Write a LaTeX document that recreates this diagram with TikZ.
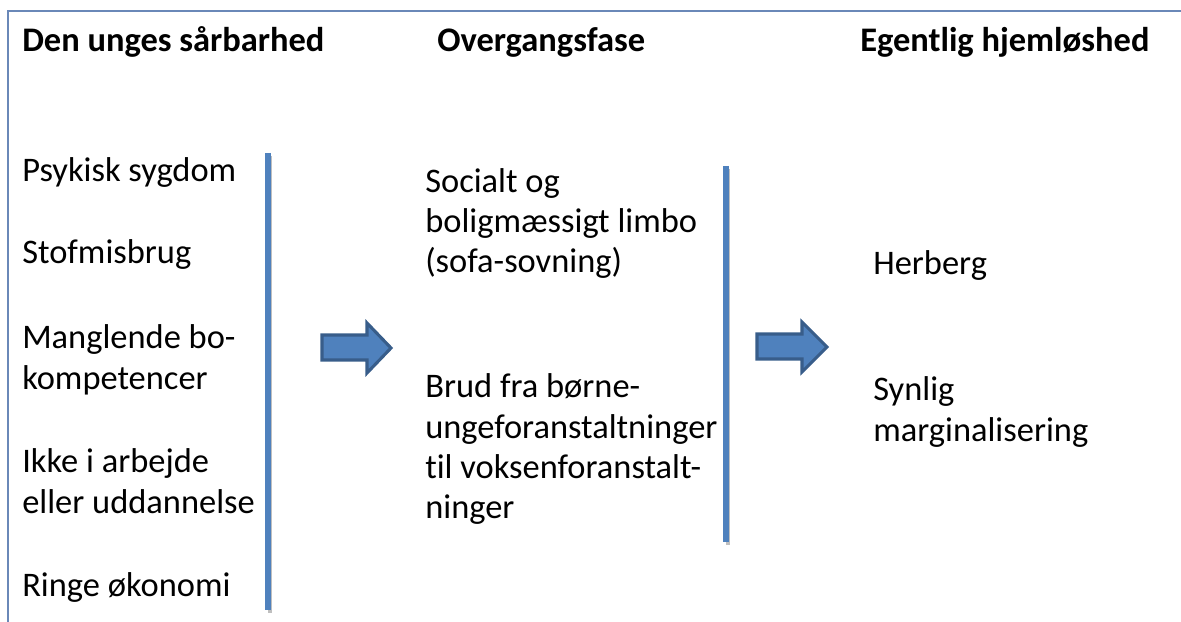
\documentclass[tikz,border=0pt]{standalone}
\usepackage{fontspec}
\setmainfont[Ligatures=NoCommon]{Carlito}
\usepackage{tikz}
\usetikzlibrary{positioning}
\definecolor{barblue}{HTML}{4F81BD}
\definecolor{edgeblue}{HTML}{385D8A}
\definecolor{frameblue}{HTML}{6A88B8}
\tikzset{
  head/.style={ anchor=base west, inner sep=0pt, font=\fontsize{24.5}{29.5}\selectfont\bfseries }
}
\tikzset{
  txt/.style={ anchor=base west, inner sep=0pt, font=\fontsize{24.5}{29.5}\selectfont }
}
\tikzset{
  bar/.style={ draw=barblue, line width=6*0.7113pt }
}
\tikzset{
  blockarr/.style={ draw=edgeblue, fill=barblue, line width=2.2pt, line join=miter }
}

\begin{document}
\begin{tikzpicture}[x=0.025cm, y=-0.025cm]
        \useasboundingbox (0, 0) rectangle (1181, 622);
        % frame
        \draw[frameblue, line width=1.2pt] (8, 622) -- (8, 11) -- (1181, 11);
        % headings
        \node[head] (h1) at (22, 52) {Den unges sårbarhed};
        \node[head] (h2) at (437, 52) {Overgangsfase};
        \node[head] (h3) at (860, 52) {Egentlig hjemløshed};
        % first column
        \node[txt] (psyk) at (22, 182) {Psykisk sygdom};
        \node[txt] (stof) at (22, 264) {Stofmisbrug};
        \node[txt] (bo1) at (22, 348) {Manglende bo-};
        \node[txt] (bo2) at (22, 389) {kompetencer};
        \node[txt] (arb1) at (22, 472) {Ikke i arbejde};
        \node[txt] (arb2) at (22, 513) {eller uddannelse};
        \node[txt] (oko) at (22, 596) {Ringe økonomi};
        % second column
        \node[txt] (limbo1) at (425, 193) {Socialt og};
        \node[txt] (limbo2) at (425, 233) {boligmæssigt limbo};
        \node[txt] (limbo3) at (425, 273) {(sofa-sovning)};
        \node[txt] (brud1) at (425, 397) {Brud fra børne-};
        \node[txt] (brud2) at (425, 438) {ungeforanstaltninger};
        \node[txt] (brud3) at (425, 478) {til voksenforanstalt-};
        \node[txt] (brud4) at (425, 518) {ninger};
        % third column
        \node[txt] (herb) at (873, 275) {Herberg};
        \node[txt] (synl1) at (873, 400) {Synlig};
        \node[txt] (synl2) at (873, 441) {marginalisering};
        % separators
        \draw[black!25, line width=3pt] (270, 156) -- (270, 613);
        \draw[bar] (268, 153) -- (268, 610);
        \draw[black!25, line width=3pt] (728, 169) -- (728, 545);
        \draw[bar] (726, 166) -- (726, 542);
        % arrows
        \draw[blockarr] (322, 335) -- (367, 335) -- (367, 323) -- (391, 348)
          -- (367, 373) -- (367, 360) -- (322, 360) -- cycle;
        \draw[blockarr] (757, 334) -- (802, 334) -- (802, 322) -- (827, 347)
          -- (802, 372) -- (802, 359) -- (757, 359) -- cycle;
      \end{tikzpicture}
\end{document}
